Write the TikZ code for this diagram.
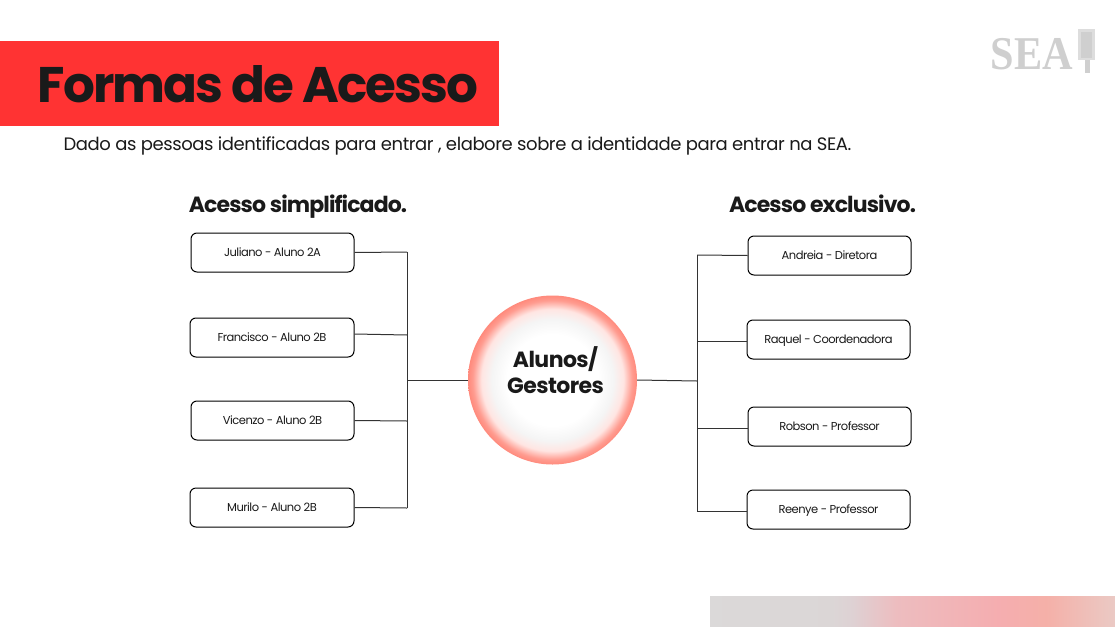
\documentclass[tikz,border=0pt]{standalone}
\usepackage{fontspec}
\setmainfont{Poppins}
\newfontfamily\titlefont[LetterSpace=-4.1]{Poppins}
\newfontfamily\headfont[LetterSpace=-4]{Poppins}
\newfontfamily\introfont[LetterSpace=-2.35]{Poppins}
\newfontfamily\boxfont[LetterSpace=-4.5]{Poppins}
\newfontfamily\hubfont[LetterSpace=-2.5]{Poppins}
\newfontfamily\logofont{Liberation Serif}
\usetikzlibrary{calc}
\definecolor{bannerred}{HTML}{FF3333}
\definecolor{inkdark}{HTML}{1A1A1A}
\definecolor{logogray}{HTML}{CFCFCF}
\definecolor{hubedge}{HTML}{FF8A7C}
\pgfdeclareradialshading{hubglow}{\pgfpoint{0bp}{0bp}}{%
  color(0bp)=(white); color(13.5bp)=(white); color(18bp)=(black!4);
  color(21bp)=(hubedge!22!white); color(23.6bp)=(hubedge!85!white); color(25bp)=(hubedge);
  color(50bp)=(hubedge)}
\pgfdeclarehorizontalshading{barfade}{100bp}{%
  rgb(0bp)=(0.86,0.85,0.85); rgb(25bp)=(0.86,0.85,0.85); rgb(40bp)=(0.86,0.84,0.84);
  rgb(42.5bp)=(0.87,0.82,0.83); rgb(48bp)=(0.93,0.74,0.75); rgb(60.5bp)=(0.96,0.68,0.69);
  rgb(66.5bp)=(0.96,0.69,0.66); rgb(75bp)=(0.92,0.79,0.77); rgb(100bp)=(0.92,0.79,0.77)}
\tikzset{
  namebox/.style={draw=black,rounded corners=6pt,line width=1pt,fill=white,
    minimum width=163pt,minimum height=39pt,inner sep=0pt,text height=9pt,text depth=1.5pt,
    font=\boxfont\fontsize{11.5}{14}\selectfont,text=inkdark},
  heading/.style={font=\headfont\fontsize{22}{26}\selectfont\bfseries,text=inkdark,inner sep=0pt,anchor=base},
  branch/.style={draw=black!80,line width=1pt}
}
\begin{document}
\begin{tikzpicture}[x=1pt,y=-1pt]
    \useasboundingbox (0,0) rectangle (1115,626);
    \fill[white] (0,0) rectangle (1115,626);

    % Title banner
    \fill[bannerred] (0,41) rectangle (499,126);
    \node[text=inkdark,font=\titlefont\fontsize{50}{56}\selectfont\bfseries,inner sep=0pt,anchor=base] (title) at (258,102) {Formas de Acesso};
    \node[text=inkdark,font=\introfont\fontsize{18}{24}\selectfont,inner sep=0pt,anchor=base] (intro) at (457.5,150.5) {Dado as pessoas identificadas para entrar , elabore sobre a identidade para entrar na SEA.};

    % Logo
    \node[text=logogray,font=\logofont\fontsize{47}{47}\selectfont\bfseries,inner sep=0pt,anchor=base,xscale=0.9] (logo) at (1032,70) {SEA};
    \fill[logogray!70] (1078,29) rectangle (1095,60);
    \fill[logogray] (1081,32) rectangle (1092,58);
    \fill[logogray] (1084.5,60) rectangle (1089.5,73);

    % Corner bar
    \shade[shading=barfade] (710,596) rectangle (1115,626);

    % Headings
    \node[heading] (headleft) at (298,212) {Acesso simplificado.};
    \node[heading] (headright) at (822.5,212) {Acesso exclusivo.};

    % Centre
    \node[circle,minimum size=169pt,inner sep=0pt,shade,shading=hubglow] (hub) at (552.5,380) {};
    \node[align=center,text=inkdark,inner sep=0pt,
      font=\hubfont\fontsize{22}{26}\selectfont\bfseries] (hublabel) at (555.5,370) {Alunos/\\Gestores};

    % Left boxes
    \node[namebox] (juliano) at (272.5,252.5) {Juliano - Aluno 2A};
    \node[namebox,minimum width=164pt] (francisco) at (272,337.5) {Francisco - Aluno 2B};
    \node[namebox] (vicenzo) at (272.5,420.5) {Vicenzo - Aluno 2B};
    \node[namebox,minimum width=164pt] (murilo) at (272,507.5) {Murilo - Aluno 2B};

    % Right boxes
    \node[namebox] (andreia) at (829.5,255.5) {Andreia - Diretora};
    \node[namebox] (raquel) at (828.5,339.5) {Raquel - Coordenadora};
    \node[namebox] (robson) at (829.5,426.5) {Robson - Professor};
    \node[namebox] (reenye) at (828.5,509.5) {Reenye - Professor};

    % Left trunk
    \coordinate (tl1) at (407,252);
    \coordinate (tl2) at (407,335);
    \coordinate (tl3) at (407,421);
    \coordinate (tl4) at (407,508);
    \coordinate (tlh) at (407,380);
    \draw[branch] (tl1) -- (tl4);
    \draw[branch] (juliano.east) -- (tl1);
    \draw[branch] (francisco.east |- 0,334) -- (tl2);
    \draw[branch] (vicenzo.east) -- (tl3);
    \draw[branch] (murilo.east) -- (tl4);
    \draw[branch] (tlh) -- (hub.west);

    % Right trunk
    \coordinate (tr1) at (697,255);
    \coordinate (tr2) at (697,341);
    \coordinate (tr3) at (697,428);
    \coordinate (tr4) at (697,511);
    \coordinate (trh) at (697,381);
    \draw[branch] (tr1) -- (tr4);
    \draw[branch] (tr1) -- (andreia.west);
    \draw[branch] (tr2) -- (raquel.west |- tr2);
    \draw[branch] (tr3) -- (robson.west |- tr3);
    \draw[branch] (tr4) -- (reenye.west |- tr4);
    \draw[branch] (hub.east) -- (trh);
\end{tikzpicture}
\end{document}
